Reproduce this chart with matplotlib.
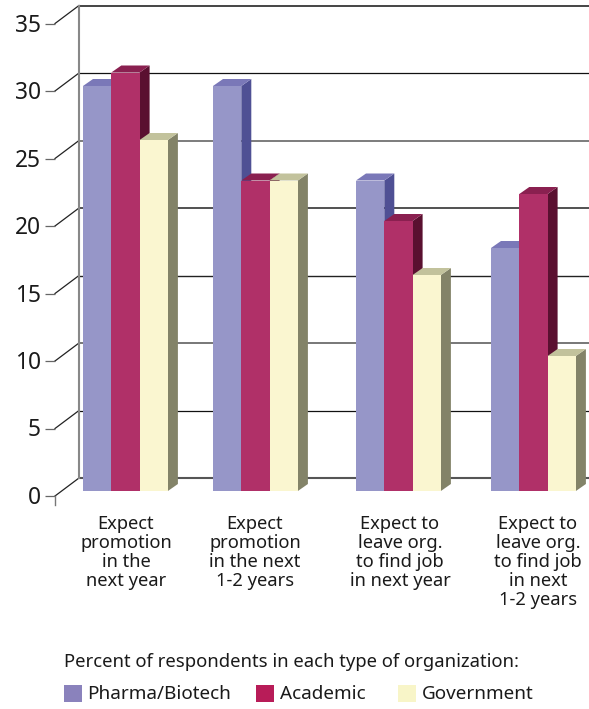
import matplotlib
matplotlib.use("Agg")
import matplotlib.pyplot as plt
from matplotlib.patches import Rectangle

plt.rcParams["font.family"] = ["Noto Sans", "DejaVu Sans"]

series_names = ["Pharma/Biotech", "Academic", "Government"]
pharma = [30, 30, 23, 18]
academic = [31, 23, 20, 22]
government = [26, 23, 16, 10]
categories = [
    "Expect\npromotion\nin the\nnext year",
    "Expect\npromotion\nin the next\n1-2 years",
    "Expect to\nleave org.\nto find job\nin next year",
    "Expect to\nleave org.\nto find job\nin next\n1-2 years",
]
y_ticks = [0, 5, 10, 15, 20, 25, 30, 35]
legend_title = "Percent of respondents in each type of organization:"

# (front, top, side) shades for each series
FACES = [
    ("#9696c8", "#7a78b8", "#4f5094"),
    ("#b03068", "#8a2050", "#5a1030"),
    ("#faf6d0", "#c2c29c", "#838368"),
]
LEGEND_COLORS = ["#8a82bc", "#b81c58", "#f8f5c8"]
# wall gridline (colour, width) per tick, bottom to top
GRID_STYLES = [
    ("#555555", 1.5), ("#111111", 0.9), ("#777777", 1.4), ("#222222", 1.0),
    ("#222222", 1.1), ("#666666", 1.2), ("#111111", 0.9), ("#444444", 1.4),
]

W, H = 589, 709
PX_PER_UNIT = 13.5
BASE_Y = 491  # pixel row of value 0 on the bar fronts
GROUP_X = [83, 213, 356, 491]
LABEL_X = [126, 255, 400, 538]
BAR_W = 28.3
DEPTH_X = 10
DEPTH_Y = 7 / PX_PER_UNIT
WALL_X = 79
WALL_Y = 13 / PX_PER_UNIT  # back wall gridlines relative to the value
TICK_Y = -5 / PX_PER_UNIT  # front ticks relative to the value
AXIS_X = 55

fig = plt.figure(figsize=(W / 100, H / 100), dpi=100)
ax = fig.add_axes([0, 0, 1, 1])
ax.set_xlim(0, W)
ax.set_ylim((BASE_Y - H) / PX_PER_UNIT, BASE_Y / PX_PER_UNIT)
ax.axis("off")


def py(pixel_row):
    return (BASE_Y - pixel_row) / PX_PER_UNIT


# back wall
for v, (grid_color, grid_lw) in zip(y_ticks, GRID_STYLES):
    ax.plot([WALL_X, W], [v + WALL_Y] * 2, color=grid_color, lw=grid_lw, zorder=1, solid_capstyle="butt")
    ax.plot([AXIS_X, WALL_X], [v + TICK_Y, v + WALL_Y], color="#222222", lw=0.9, zorder=1)
    ax.plot([45, AXIS_X], [v + TICK_Y] * 2, color="#666666", lw=0.9, zorder=1, solid_capstyle="butt")
    ax.text(41, v + TICK_Y - 2 / PX_PER_UNIT, str(v), ha="right", va="center", fontsize=16.4, color="#1a1a1a")
ax.plot([WALL_X] * 2, [y_ticks[0] + WALL_Y, y_ticks[-1] + WALL_Y], color="#888888", lw=1.5, zorder=1)
ax.plot([AXIS_X] * 2, [TICK_Y, py(505)], color="#777777", lw=1.0, zorder=1)

# bars, left to right so the nearer side faces are overlapped by the next bar
for g, x0 in enumerate(GROUP_X):
    for s, values in enumerate([pharma, academic, government]):
        v = values[g]
        left = x0 + s * BAR_W
        right = left + BAR_W
        front, top, side = FACES[s]
        z = 2 + g + s * 0.1
        ax.fill(
            [right, right + DEPTH_X, right + DEPTH_X, right],
            [0, DEPTH_Y, v + DEPTH_Y, v],
            color=side, lw=0, zorder=z,
        )
        ax.fill(
            [left, left + DEPTH_X, right + DEPTH_X, right],
            [v, v + DEPTH_Y, v + DEPTH_Y, v],
            color=top, lw=0, zorder=z,
        )
        ax.bar(left, v, width=BAR_W, align="edge", color=front, lw=0, zorder=z)

# category labels
for x, label in zip(LABEL_X, categories):
    ax.text(
        x, py(515), label, ha="center", va="top", fontsize=13.2,
        linespacing=1.07, color="#1a1a1a",
    )

# legend
ax.text(64, py(662), legend_title, ha="left", va="center", fontsize=13.3, color="#1a1a1a")
swatch_x = [64, 256, 398]
text_x = [87, 280, 422]
for sx, tx, color, name in zip(swatch_x, text_x, LEGEND_COLORS, series_names):
    ax.add_patch(Rectangle((sx, py(702)), 18, 17 / PX_PER_UNIT, color=color, lw=0))
    ax.text(tx, py(694), name, ha="left", va="center", fontsize=13.6, color="#1a1a1a")

fig.savefig("out.png", dpi=100)
